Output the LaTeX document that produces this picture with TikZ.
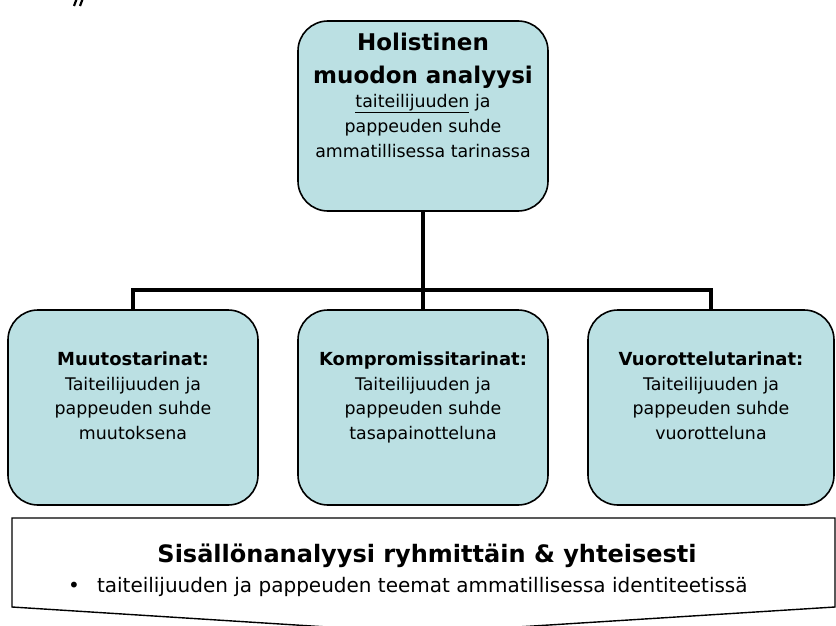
\documentclass[tikz,border=0pt]{standalone}
\usepackage{fontspec}
\setmainfont{DejaVu Sans}
\definecolor{tealfill}{RGB}{187,224,227}
\tikzset{
  roundbox/.style={draw, line width=1.6, rounded corners=30, fill=tealfill, inner sep=0, minimum width=250, minimum height=195},
  headtxt/.style={inner sep=0, align=center, font=\bfseries\fontsize{23}{32.5}\selectfont},
  bodytxt/.style={inner sep=0, align=center, font=\fontsize{17.4}{25}\selectfont},
  boxtxt/.style={inner sep=0, align=center, font=\fontsize{17.4}{24.5}\selectfont},
  branch/.style={line width=4.2}
}
\newcommand{\boxhead}[1]{{\bfseries\fontsize{18}{24.5}\selectfont #1}}

\begin{document}
\begin{tikzpicture}[x=1pt,y=1pt,yscale=-1]
\useasboundingbox (0,0) rectangle (836,626);

%Shape: Quote Marks (cut off)
\draw [line width=2.2]  (74,6) -- (77,-2) (80,6) -- (83,-2);

%Shape: Rounded Rect
\node [roundbox, minimum height=190] (holist) at (423,116) {};
%Shape: Rounded Rect
\node [roundbox] (muutos) at (133,407.5) {};
%Shape: Rounded Rect
\node [roundbox] (kompro) at (423,407.5) {};
%Shape: Rounded Rect
\node [roundbox, minimum width=246] (vuoro) at (711,407.5) {};

%Straight Lines
\coordinate (fork) at (423,290);
\draw [branch]  (holist.south) -- (fork);
\draw [branch]  (muutos.north) |- (fork) -| (vuoro.north);
\draw [branch]  (fork) -- (kompro.north);

%Shape: Banner
\draw [line width=1.4, fill=white]  (12,518) -- (835,518) -- (835,607) -- (422,633) -- (12,607) -- cycle;

% Text Node
\node [headtxt, anchor=north] (holistHead) at (423,33) {Holistinen\\muodon analyysi};
% Text Node
\node [bodytxt, anchor=north] (holistBody) at (423,94) {\underline{taiteilijuuden} ja\\pappeuden suhde\\ammatillisessa tarinassa};
% Text Node
\node [boxtxt, anchor=north] (muutosTxt) at (133,352) {\boxhead{Muutostarinat:}\\Taiteilijuuden ja\\pappeuden suhde\\muutoksena};
% Text Node
\node [boxtxt, anchor=north] (komproTxt) at (423,352) {\boxhead{Kompromissitarinat:}\\Taiteilijuuden ja\\pappeuden suhde\\tasapainotteluna};
% Text Node
\node [boxtxt, anchor=north] (vuoroTxt) at (711,352) {\boxhead{Vuorottelutarinat:}\\Taiteilijuuden ja\\pappeuden suhde\\vuorotteluna};
% Text Node
\node [inner sep=0, anchor=base, font=\bfseries\fontsize{24}{28}\selectfont] (sisalto) at (427,562) {Sisällönanalyysi ryhmittäin \& yhteisesti};
% Text Node
\node [inner sep=0, anchor=base west, font=\fontsize{20}{24}\selectfont] (teemat) at (68,592) {•\hspace{17pt}taiteilijuuden ja pappeuden teemat ammatillisessa identiteetissä};

\end{tikzpicture}
\end{document}
